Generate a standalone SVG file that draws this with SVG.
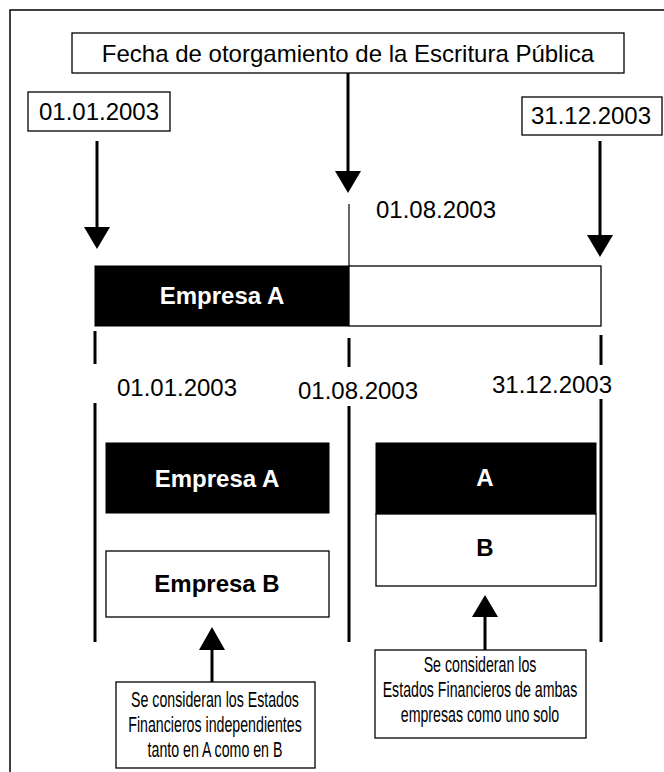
<svg xmlns="http://www.w3.org/2000/svg" width="664" height="772" viewBox="0 0 664 772">
<style>
.t{font-family:"Liberation Sans",Arial,sans-serif;font-size:24px;fill:#000;text-anchor:middle}
.b{font-family:"Liberation Sans",Arial,sans-serif;font-size:24px;font-weight:bold;text-anchor:middle}
.w{fill:#fff}
.n{font-family:"Liberation Sans",Arial,sans-serif;font-size:22px;fill:#000;text-anchor:middle}
.box{fill:#fff;stroke:#000;stroke-width:1.3}
.blk{fill:#000;stroke:#000;stroke-width:1}
.thick{stroke:#000;stroke-width:3;fill:none}
.thin{stroke:#000;stroke-width:1.2;fill:none}
</style>
<rect x="10" y="10" width="700" height="800" fill="none" stroke="#000" stroke-width="1.5"/>
<g id="fecha">
<rect class="box" x="72" y="33" width="552" height="40"/>
<text class="t" x="348" y="62">Fecha de otorgamiento de la Escritura Pública</text>
</g>
<g id="inicio">
<rect class="box" x="28" y="92" width="142" height="39"/>
<text class="t" x="99" y="120">01.01.2003</text>
</g>
<g id="fin">
<rect class="box" x="522" y="97" width="140" height="38"/>
<text class="t" x="591" y="124">31.12.2003</text>
</g>
<text class="t" x="436" y="218">01.08.2003</text>
<g id="barra">
<rect class="blk" x="95" y="266" width="254" height="60"/>
<rect class="box" x="349" y="266" width="252" height="60"/>
<text class="b w" x="222" y="304">Empresa A</text>
</g>
<text class="t" x="177" y="396">01.01.2003</text>
<text class="t" x="358" y="399">01.08.2003</text>
<text class="t" x="552" y="393">31.12.2003</text>
<g id="empresaA">
<rect class="blk" x="106" y="443" width="223" height="70"/>
<text class="b w" x="217" y="487">Empresa A</text>
</g>
<g id="empresaB">
<rect class="box" x="106" y="551" width="223" height="66"/>
<text class="b" x="217" y="592">Empresa B</text>
</g>
<g id="fusionA">
<rect class="blk" x="376" y="443" width="220" height="71"/>
<text class="b w" x="485" y="486">A</text>
</g>
<g id="fusionB">
<rect class="box" x="376" y="514" width="220" height="72"/>
<text class="b" x="485" y="556">B</text>
</g>
<g id="nota1">
<rect class="box" x="116" y="682" width="199" height="86"/>
<text class="n" transform="translate(215,707) scale(0.645,1)">Se consideran los Estados</text>
<text class="n" transform="translate(215,732) scale(0.645,1)">Financieros independientes</text>
<text class="n" transform="translate(215,757) scale(0.645,1)">tanto en A como en B</text>
</g>
<g id="nota2">
<rect class="box" x="375" y="650" width="211" height="88"/>
<text class="n" transform="translate(480,672) scale(0.645,1)">Se consideran los</text>
<text class="n" transform="translate(480,697) scale(0.645,1)">Estados Financieros de ambas</text>
<text class="n" transform="translate(480,722) scale(0.645,1)">empresas como uno solo</text>
</g>
<g id="conectores">
<line class="thick" x1="97" y1="141" x2="97" y2="229"/>
<polygon points="84,227 110,227 97,249"/>
<line class="thick" x1="348" y1="73" x2="348" y2="173"/>
<polygon points="335,171 361,171 348,193"/>
<line class="thick" x1="600" y1="141" x2="600" y2="237"/>
<polygon points="587,235 613,235 600,257"/>
<line class="thin" x1="349" y1="204" x2="349" y2="266"/>
<line class="thick" x1="95" y1="331" x2="95" y2="364"/>
<line class="thick" x1="349" y1="338" x2="349" y2="367"/>
<line class="thick" x1="601" y1="335" x2="601" y2="365"/>
<line class="thick" x1="95" y1="403" x2="95" y2="642"/>
<line class="thick" x1="349" y1="406" x2="349" y2="642"/>
<line class="thick" x1="601" y1="399" x2="601" y2="642"/>
<line class="thick" x1="212" y1="648" x2="212" y2="682"/>
<polygon points="199,650 225,650 212,627"/>
<line class="thick" x1="485" y1="615" x2="485" y2="650"/>
<polygon points="472,617 498,617 485,595"/>
</g>
</svg>
